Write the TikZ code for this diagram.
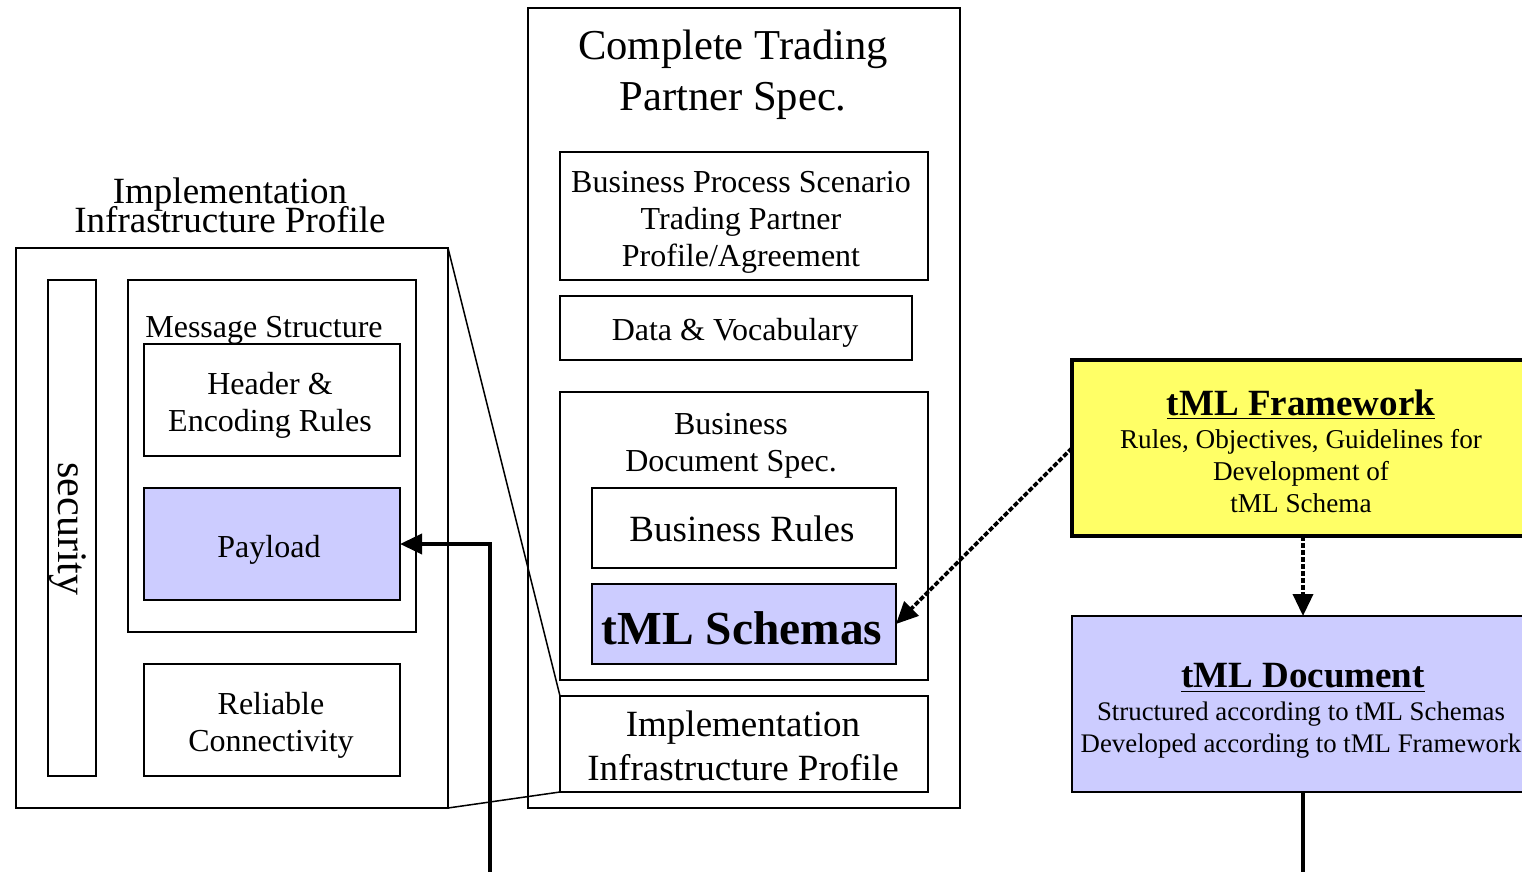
\documentclass[tikz,border=0pt]{standalone}
\usepackage{fontspec}
\setmainfont{Liberation Serif}
\usetikzlibrary{arrows.meta}
\definecolor{lav}{RGB}{204,204,255}
\definecolor{yel}{RGB}{255,255,102}
\begin{document}
\begin{tikzpicture}[x=0.5pt,y=-0.5pt,
  box/.style={draw, line width=0.75pt, inner sep=0pt, outer sep=0pt, anchor=north west},
  hbox/.style={box, line width=1.6pt},
  txt/.style={align=center, inner sep=0pt},
  fA/.style={font=\fontsize{16pt}{18.5pt}\selectfont},
  fB/.style={font=\fontsize{18.5pt}{22pt}\selectfont},
  thickln/.style={line width=1.8pt},
  dashln/.style={line width=1.8pt, dash pattern=on 2.5pt off 1pt},
  tip/.style={-{Triangle[length=11pt,width=10pt]}}
]
\clip (0,0) rectangle (1522,872);
% central column
\node[box, minimum width=216pt, minimum height=400pt] (cts) at (528,8) {};
\node[txt, font=\fontsize{21.3pt}{25.5pt}\selectfont] (ctsT) at (733,75) {Complete Trading\\Partner Spec.};
\node[box, minimum width=184pt, minimum height=64pt] (bps) at (560,152) {};
\node[txt, fA] (bpsT) at (741,222) {Business Process Scenario\\Trading Partner\\Profile/Agreement};
\node[box, minimum width=176pt, minimum height=32pt] (dv) at (560,296) {};
\node[txt, fA] (dvT) at (735,333) {Data \& Vocabulary};
\node[box, minimum width=184pt, minimum height=144pt] (bds) at (560,392) {};
\node[txt, fA] (bdsT) at (731,446) {Business\\Document Spec.};
\node[box, minimum width=152pt, minimum height=40pt] (br) at (592,488) {};
\node[txt, font=\fontsize{18.5pt}{22pt}\selectfont] (brT) at (742,529) {Business Rules};
\node[box, fill=lav, minimum width=152pt, minimum height=40pt] (ts) at (592,584) {};
\node[txt, font=\fontsize{23.7pt}{28pt}\bfseries] (tsT) at (742,628) {tML Schemas};
\node[box, minimum width=184pt, minimum height=48pt] (iip) at (560,696) {};
\node[txt, fB] (iipT) at (743,746) {Implementation\\Infrastructure Profile};
% left detail
\node[txt, font=\fontsize{18.5pt}{22pt}\selectfont] (loT) at (230,205) {Implementation\\[-7.5pt]Infrastructure Profile};
\node[box, minimum width=216pt, minimum height=280pt] (lo) at (16,248) {};
\node[box, minimum width=24pt, minimum height=248pt] (sec) at (48,280) {};
\node[txt, rotate=-90, font=\fontsize{21pt}{25pt}\selectfont] (secT) at (68,529) {security};
\node[box, minimum width=144pt, minimum height=176pt] (ms) at (128,280) {};
\node[txt, fA] (msT) at (264,330) {Message Structure};
\node[box, minimum width=128pt, minimum height=56pt] (hdr) at (144,344) {};
\node[txt, fA] (hdrT) at (270,405) {Header \&\\Encoding Rules};
\node[box, fill=lav, minimum width=128pt, minimum height=56pt] (pay) at (144,488) {};
\node[txt, fA] (payT) at (269,550) {Payload};
\node[box, minimum width=128pt, minimum height=56pt] (rel) at (144,664) {};
\node[txt, fA] (relT) at (271,725) {Reliable\\Connectivity};
% right side
\node[hbox, fill=yel, minimum width=231pt, minimum height=88pt] (fw) at (1072,360) {};
\node[txt, font=\fontsize{18.5pt}{22pt}\bfseries] (fwT) at (1301,405) {\underline{tML Framework}};
\node[txt, font=\fontsize{13.6pt}{16pt}\selectfont] (fwS) at (1301,471) {Rules, Objectives, Guidelines for\\Development of\\tML Schema};
\node[box, fill=lav, minimum width=231pt, minimum height=88pt] (doc) at (1072,616) {};
\node[txt, font=\fontsize{18.5pt}{22pt}\bfseries] (docT) at (1303,678) {\underline{tML Document}};
\node[txt, font=\fontsize{13.4pt}{16pt}\selectfont] (docS) at (1301,730) {Structured according to tML Schemas\\Developed according to tML Framework};
% connectors
\draw[line width=0.75pt] (lo.north east) -- (iip.north west);
\draw[line width=0.75pt] (lo.south east) -- (iip.south west);
\coordinate (pin) at (490,872);
\draw[thickln, tip] (pin) |- (pay.east);
\draw[dashln, tip] (fw.west) -- (ts.east);
\draw[dashln, tip] (fw.south) -- (doc.north);
\coordinate (dout) at (1303,872);
\draw[thickln] (doc.south) -- (dout);
\end{tikzpicture}
\end{document}
